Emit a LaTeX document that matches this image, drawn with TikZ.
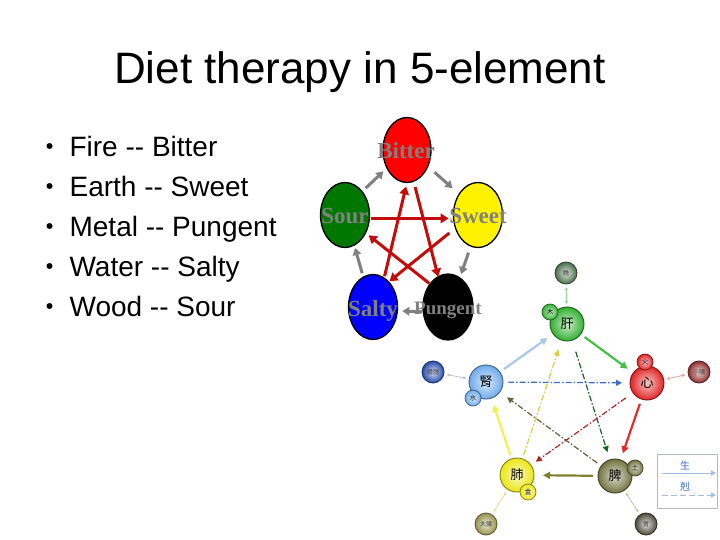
\documentclass[tikz,border=0pt]{standalone}
\usepackage{fontspec}
\setmainfont{Liberation Sans}
\newfontfamily\tasteFont{Liberation Serif}
\newfontfamily\cjk{Noto Sans CJK TC}
\usetikzlibrary{arrows.meta,shapes.geometric}
\definecolor{kered}{RGB}{196,12,12}
\definecolor{shgray}{RGB}{128,128,128}
\definecolor{lblgray}{RGB}{128,128,128}
\definecolor{elgreen}{RGB}{0,120,0}
\definecolor{cgan}{RGB}{50,175,50}
\definecolor{cxin}{RGB}{225,35,35}
\definecolor{cshen}{RGB}{110,170,235}
\definecolor{cfei}{RGB}{235,230,20}
\definecolor{cpi}{RGB}{115,115,65}
\definecolor{odan}{RGB}{75,110,75}
\definecolor{opg}{RGB}{40,75,170}
\definecolor{oxc}{RGB}{140,45,45}
\definecolor{odc}{RGB}{150,145,75}
\definecolor{owei}{RGB}{75,75,60}
\definecolor{legblue}{RGB}{60,110,200}
\definecolor{leglight}{RGB}{160,190,230}
\definecolor{legbox}{RGB}{180,185,200}
\definecolor{sA}{RGB}{170,200,235}
\definecolor{sB}{RGB}{70,190,70}
\definecolor{sC}{RGB}{225,45,45}
\definecolor{sD}{RGB}{128,128,50}
\definecolor{sE}{RGB}{240,240,80}
\definecolor{kA}{RGB}{60,110,200}
\definecolor{kB}{RGB}{30,100,40}
\definecolor{kC}{RGB}{170,40,40}
\definecolor{kD}{RGB}{100,100,60}
\definecolor{kE}{RGB}{215,205,70}
\definecolor{pA}{RGB}{160,210,160}
\definecolor{pB}{RGB}{185,195,215}
\definecolor{pC}{RGB}{235,160,160}
\definecolor{pD}{RGB}{230,225,150}
\definecolor{pE}{RGB}{200,195,170}
\begin{document}
\begin{tikzpicture}[x=1pt,y=-1pt,
  taste/.style={ellipse, draw=black, line width=1.3pt, minimum width=49pt, minimum height=65pt, inner sep=0pt, outer sep=0pt},
  tlabel/.style={anchor=base, font=\tasteFont\bfseries\fontsize{23}{23}\selectfont, text=lblgray, inner sep=0pt},
  genarr/.style={draw=shgray, line width=3pt, -{Triangle[length=7pt,width=8.5pt]}},
  kearr/.style={draw=kered, line width=3pt, -{Triangle[length=8pt,width=9.5pt]}},
  bullettext/.style={anchor=base west, font=\fontsize{28}{28}\selectfont, inner sep=0pt},
  bulletdot/.style={circle, fill=black, minimum size=6pt, inner sep=0pt},
  org/.style={circle, minimum size=34pt, inner sep=0pt, outer sep=0pt, draw=#1!55!black, line width=0.9pt, inner color=#1!25, outer color=#1, font=\cjk\fontsize{13}{13}\selectfont},
  elem/.style={circle, minimum size=16pt, inner sep=0pt, outer sep=0pt, draw=#1!55!black, line width=0.7pt, inner color=#1!25, outer color=#1, font=\cjk\fontsize{6.5}{6.5}\selectfont},
  fu/.style={circle, minimum size=22pt, inner sep=0pt, outer sep=0pt, draw=#1!60!black, line width=0.8pt, inner color=#1!20, outer color=#1, font=\cjk\fontsize{6}{6}\selectfont, text=black!80},
  sheng/.style={draw=#1, line width=2.2pt, -{Triangle[length=7pt,width=7pt]}, shorten <=5pt, shorten >=7pt},
  ke/.style={draw=#1, line width=1.2pt, dash pattern=on 6pt off 2pt on 1.5pt off 2pt, -{Triangle[length=6pt,width=6pt]}, shorten <=6pt, shorten >=8pt},
  pair/.style={draw=#1, line width=0.8pt, {Triangle[length=3pt,width=3pt]}-{Triangle[length=3pt,width=3pt]}, shorten <=3pt, shorten >=3pt},
]
\useasboundingbox (0,0) rectangle (720,540);
\fill[white] (0,0) rectangle (720,540);

% title
\node[anchor=base, font=\fontsize{44}{44}\selectfont, inner sep=0pt] (title) at (360,83.5) {Diet therapy in 5-element};

% bullets
\node[bulletdot] (b1) at (49.5,146) {};
\node[bullettext] (t1) at (69.4,156.7) {Fire -{}- Bitter};
\node[bulletdot] (b2) at (49.5,186) {};
\node[bullettext] (t2) at (69.4,196.7) {Earth -{}- Sweet};
\node[bulletdot] (b3) at (49.5,226) {};
\node[bullettext] (t3) at (69.4,236.7) {Metal -{}- Pungent};
\node[bulletdot] (b4) at (49.5,266) {};
\node[bullettext] (t4) at (69.4,276.7) {Water -{}- Salty};
\node[bulletdot] (b5) at (49.5,306) {};
\node[bullettext] (t5) at (69.4,316.7) {Wood -{}- Sour};

% taste ellipses
\node[taste, fill=red, minimum width=48pt] (bitter) at (407,150) {};
\node[taste, fill=elgreen] (sour) at (345,215) {};
\node[taste, fill=yellow] (sweet) at (478,215) {};
\node[taste, fill=blue] (salty) at (373,307) {};
\node[taste, fill=black, minimum width=50pt, minimum height=66pt] (pungent) at (448,307) {};

% generating (gray)
\draw[genarr, shorten <=5pt, shorten >=5pt] (sour.54) -- (bitter.222);
\draw[genarr, shorten <=9pt, shorten >=9pt] (bitter.-38) -- (sweet.132);
\draw[genarr, shorten <=7pt, shorten >=4pt] (sweet.257) -- (pungent.68);
\draw[genarr, shorten <=1pt, shorten >=5pt] (pungent.191) -- (salty.-9);
\draw[genarr, shorten <=4pt, shorten >=3pt] (salty.108) -- (sour.-73);

% controlling (red)
\draw[kearr, shorten <=2pt, shorten >=5pt] (sour.-8) -- (sweet.188);
\draw[kearr, shorten <=8pt, shorten >=1pt] (sweet.210) -- (salty.58);
\draw[kearr, shorten <=2pt, shorten >=4pt] (salty.69) -- (bitter.270);
\draw[kearr, shorten <=6pt, shorten >=0pt] (bitter.282) -- (pungent.108);
\draw[kearr, shorten <=1pt, shorten >=4pt] (pungent.128) -- (sour.319);

% taste labels
\node[tlabel] (lbitter) at (406,158.3) {Bitter};
\node[tlabel] (lsour) at (345,223.3) {Sour};
\node[tlabel] (lsweet) at (478,223.3) {Sweet};
\node[tlabel] (lsalty) at (373,316) {Salty};
\node[tlabel, font=\tasteFont\bfseries\fontsize{19}{19}\selectfont] (lpungent) at (448,314) {Pungent};

% Chinese five-organ diagram
\node[fu=odan] (dan) at (566,273) {膽};
\node[fu=opg] (pg) at (433,372) {膀胱};
\node[fu=oxc] (xc) at (699,372) {小腸};
\node[fu=odc] (dc) at (486,524) {大腸};
\node[fu=owei] (wei) at (646,524) {胃};

\node[org=cgan] (gan) at (567,324) {肝};
\node[elem=cgan] (mu) at (550,312) {木};
\node[org=cxin] (xin) at (647,383) {心};
\node[elem=cxin] (huo) at (645,362) {火};
\node[org=cshen] (shen) at (486,382) {腎};
\node[elem=cshen] (shui) at (473,398) {水};
\node[org=cfei] (fei) at (517,475) {肺};
\node[elem=cfei] (jin) at (528,492) {金};
\node[org=cpi] (pi) at (615,476) {脾};
\node[elem=cpi] (tu) at (635,468) {土};

% generating (solid)
\draw[sheng=sA] (shen) -- (gan);
\draw[sheng=sB] (gan) -- (xin);
\draw[sheng=sC] (xin) -- (pi);
\draw[sheng=sD, shorten >=9pt] (pi) -- (fei);
\draw[sheng=sE, shorten <=4pt] (fei) -- (shen);

% controlling (dash-dot)
\draw[ke=kA, shorten <=5pt] (shen) -- (xin);
\draw[ke=kB, shorten <=12pt] (gan) -- (pi);
\draw[ke=kC, shorten <=9pt, shorten >=6pt] (xin) -- (fei);
\draw[ke=kD, shorten <=5pt, shorten >=9pt] (pi) -- (shen);
\draw[ke=kE, shorten <=4pt, shorten >=10pt] (fei) -- (gan);

% paired organs
\draw[pair=pA] (dan) -- (gan);
\draw[pair=pB] (pg) -- (shen);
\draw[pair=pC] (xin) -- (xc);
\draw[pair=pD] (fei) -- (dc);
\draw[pair=pE] (pi) -- (wei);

% legend
\node[draw=legbox, fill=white, line width=0.8pt, minimum width=60pt, minimum height=54pt, inner sep=0pt] (legend) at (687.5,481) {};
\node[font=\cjk\fontsize{10}{10}\selectfont, text=legblue, inner sep=0pt] (lsheng) at (685,466) {生};
\node[font=\cjk\fontsize{10}{10}\selectfont, text=legblue, inner sep=0pt] (lke) at (685,487) {剋};
\coordinate (ls1) at (662,473);
\coordinate (ls2) at (716,473);
\coordinate (lk1) at (662,495);
\coordinate (lk2) at (716,495);
\draw[draw=leglight, line width=1pt, -{Triangle[length=5pt,width=5pt]}] (ls1) -- (ls2);
\draw[draw=leglight, line width=1pt, dash pattern=on 6pt off 3pt, -{Triangle[length=5pt,width=5pt]}] (lk1) -- (lk2);
\end{tikzpicture}
\end{document}
